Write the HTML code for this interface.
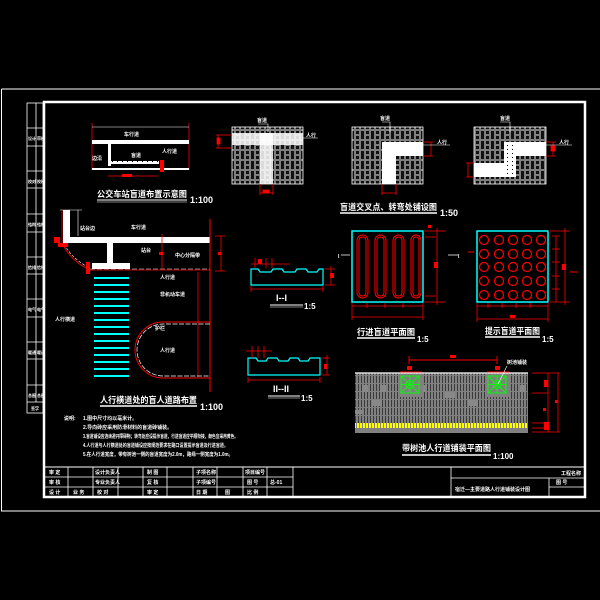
<!DOCTYPE html>
<html><head><meta charset="utf-8"><style>
html,body{margin:0;padding:0;background:#000;width:600px;height:600px;overflow:hidden}
svg{display:block}
text{font-family:"Liberation Sans","Noto Sans CJK SC",sans-serif;font-weight:bold}
</style></head><body>
<svg width="600" height="600" viewBox="0 0 600 600" xmlns="http://www.w3.org/2000/svg">
<defs>
<pattern id="brick" width="10" height="10" patternUnits="userSpaceOnUse">
<rect width="10" height="10" fill="#111"/>
<rect x="0.5" y="0.5" width="4" height="9" fill="none" stroke="#9a9a9a" stroke-width="0.8"/>
<rect x="5.5" y="0.5" width="4" height="4" fill="none" stroke="#9a9a9a" stroke-width="0.8"/>
<rect x="5.5" y="5.5" width="4" height="4" fill="none" stroke="#9a9a9a" stroke-width="0.8"/>
</pattern>
<pattern id="plan" width="3" height="8" patternUnits="userSpaceOnUse">
<rect width="3" height="8" fill="#808080"/>
<rect x="1" y="0" width="0.8" height="7" fill="#2a2a2a"/>
</pattern>
<pattern id="yel" width="3" height="6" patternUnits="userSpaceOnUse">
<rect width="3" height="6" fill="#808080"/>
<rect x="0" y="0" width="2" height="6" fill="#ffff00"/>
</pattern>
<pattern id="dots" width="5" height="4" patternUnits="userSpaceOnUse">
<rect width="5" height="4" fill="#fff"/>
<rect x="2" y="1" width="1" height="1" fill="#000"/>
</pattern>
</defs>
<rect width="600" height="600" fill="#000"/>
<path d="M1.5 89 H600 M1.5 89 V511 H600" stroke="#fff" stroke-width="1" fill="none"/>
<rect x="44" y="102" width="541" height="395" fill="none" stroke="#fff" stroke-width="2.5"/>
<g stroke="#fff" stroke-width="0.8" fill="none">
<rect x="27" y="103" width="16" height="310"/>
<line x1="36" y1="103" x2="36" y2="402"/>
<path d="M27 128H43M27 146H43M27 171H43M27 188H43M27 214H43M27 232H43M27 257H43M27 274H43M27 299H43M27 317H43M27 342H43M27 359H43M27 385H43M27 402H43"/>
</g>
<g fill="#fff" font-size="4">
<text x="28" y="140">设计</text><text x="37" y="140">审核</text>
<text x="28" y="183">校对</text><text x="37" y="183">校核</text>
<text x="28" y="226">结构</text><text x="37" y="226">结构</text>
<text x="28" y="269">给排</text><text x="37" y="269">给排</text>
<text x="28" y="311">电气</text><text x="37" y="311">电气</text>
<text x="28" y="354">暖通</text><text x="37" y="354">暖通</text>
<text x="28" y="397">总图</text><text x="37" y="397">总图</text>
<text x="31" y="410">签字</text>
</g>

<g>
<line x1="92" y1="123" x2="92" y2="170" stroke="#f00" stroke-width="0.8"/>
<line x1="189" y1="123" x2="189" y2="170" stroke="#f00" stroke-width="0.8"/>
<line x1="92" y1="127" x2="189" y2="127" stroke="#fff" stroke-width="0.6"/>
<rect x="92" y="140" width="97" height="4" fill="#fff"/>
<rect x="92" y="168" width="97" height="2" fill="#fff"/>
<rect x="108" y="144" width="3" height="22" fill="#fff"/>
<rect x="111" y="161" width="18" height="3" fill="url(#dots)"/>
<rect x="129" y="161" width="30" height="3" fill="url(#dots)"/>
<line x1="108" y1="176" x2="158" y2="176" stroke="#f00" stroke-width="0.8"/>
<rect x="122" y="174" width="10" height="3" fill="#f00"/>
<rect x="160" y="160" width="4" height="12" fill="#f00"/>
<g fill="#fff" font-size="5"><text x="124" y="136">车行道</text><text x="131" y="157">盲道</text><text x="162" y="153">人行道</text><text x="92" y="160">边沿</text></g>
<text x="97" y="197" fill="#fff" font-size="8.5" textLength="90" lengthAdjust="spacingAndGlyphs">公交车站盲道布置示意图</text>
<line x1="97" y1="200" x2="187" y2="200" stroke="#fff" stroke-width="1"/>
<line x1="97" y1="202" x2="187" y2="202" stroke="#fff" stroke-width="0.6"/>
<text x="190" y="203" fill="#fff" font-size="9" font-weight="normal">1:100</text>
</g>

<g>
<rect x="232" y="127" width="71" height="57" fill="url(#brick)" stroke="#fff" stroke-width="0.8"/>
<rect x="232" y="133" width="71" height="12" fill="#fff" opacity="0.85"/>
<rect x="260" y="133" width="13" height="51" fill="#fff" opacity="0.85"/>
<rect x="352" y="127" width="71" height="57" fill="url(#brick)" stroke="#fff" stroke-width="0.8"/>
<rect x="382" y="142" width="41" height="14" fill="#fff"/>
<rect x="382" y="156" width="14" height="28" fill="#fff"/>
<rect x="474" y="127" width="72" height="57" fill="url(#brick)" stroke="#fff" stroke-width="0.8"/>
<rect x="504" y="142" width="42" height="14" fill="#fff"/>
<rect x="474" y="163" width="42" height="14" fill="#fff"/>
<rect x="504" y="142" width="12" height="35" fill="url(#dots)"/>
<g stroke="#f00" stroke-width="0.8" fill="none">
<path d="M216 135H232M216 148H232M218 135V148"/><rect x="217" y="138" width="3" height="6" fill="#f00"/>
<path d="M260 184V195M273 184V195M260 193H273"/><rect x="263" y="190" width="6" height="3" fill="#f00"/>
<path d="M382 184V195M396 184V195M382 193H396"/>
<path d="M423 142H433M423 156H433M431 142V156"/>
<path d="M546 142H556M546 156H556M553 142V156"/><rect x="551" y="146" width="4" height="5" fill="#f00"/>
<path d="M468 163V177M474 163H466M474 177H466"/>
</g>
<g stroke="#fff" stroke-width="0.6" fill="none"><path d="M268 132V124H258M303 138H318M390 132V122H382M423 145H450M510 132V122H500M546 145H572"/></g>
<g fill="#fff" font-size="5"><text x="257" y="122">盲道</text><text x="306" y="137">人行</text><text x="380" y="120">盲道</text><text x="437" y="144">人行</text><text x="500" y="120">盲道</text><text x="559" y="144">人行</text></g>
<text x="340" y="210" fill="#fff" font-size="8.5" textLength="97" lengthAdjust="spacingAndGlyphs">盲道交叉点、转弯处铺设图</text>
<line x1="340" y1="213" x2="437" y2="213" stroke="#fff" stroke-width="1.5"/>
<text x="440" y="216" fill="#fff" font-size="9" font-weight="normal">1:50</text>
</g>

<g>
<line x1="60" y1="210" x2="82" y2="210" stroke="#fff" stroke-width="0.6"/>
<line x1="78" y1="210" x2="78" y2="236" stroke="#fff" stroke-width="0.6"/>
<rect x="63" y="210" width="7" height="33" fill="#fff"/>
<rect x="63" y="237" width="147" height="6" fill="#fff"/>
<rect x="107" y="243" width="6" height="20" fill="#fff"/>
<rect x="92" y="263" width="38" height="6" fill="#fff"/>
<line x1="90" y1="270" x2="210" y2="270" stroke="#f00" stroke-width="0.8"/>
<line x1="90" y1="269" x2="210" y2="269" stroke="#fff" stroke-width="0.6" stroke-dasharray="5 2"/>
<path d="M63 245 Q72 262 90 270" stroke="#f00" stroke-width="0.9" fill="none"/>
<path d="M64 244 Q73 260 90 268" stroke="#fff" stroke-width="0.6" fill="none" stroke-dasharray="3 1.5"/>
<line x1="62" y1="210" x2="62" y2="245" stroke="#f00" stroke-width="0.8"/>
<rect x="54" y="237" width="6" height="6" fill="#f00"/><rect x="58" y="243" width="10" height="4" fill="#f00"/>
<rect x="86" y="262" width="4" height="12" fill="#f00"/>
<line x1="210" y1="219" x2="210" y2="392" stroke="#f00" stroke-width="1"/>
<line x1="221" y1="236" x2="221" y2="271" stroke="#f00" stroke-width="0.8"/>
<path d="M215 236H225M215 271H225" stroke="#f00" stroke-width="0.8"/>
<rect x="218" y="252" width="3" height="3" fill="#f00"/>
<line x1="162" y1="234" x2="162" y2="270" stroke="#f00" stroke-width="0.8"/>
<rect x="159" y="252" width="4" height="3" fill="#f00"/>
<line x1="198" y1="272" x2="198" y2="377" stroke="#f00" stroke-width="0.8"/>
<g fill="#fff" font-size="5"><text x="80" y="230">站台边</text><text x="131" y="229">车行道</text><text x="141" y="252">站台</text><text x="175" y="257">中心分隔带</text><text x="160" y="296">非机动车道</text><text x="160" y="352">人行道</text><text x="160" y="279">人行道</text><text x="55" y="321">人行横道</text><text x="155" y="330">护栏</text></g>
<g fill="#0ff">
<rect x="94" y="277" width="35" height="2"/><rect x="94" y="284" width="35" height="2"/><rect x="94" y="291" width="35" height="2"/><rect x="94" y="298" width="35" height="2"/><rect x="94" y="305" width="35" height="2"/><rect x="94" y="312" width="35" height="2"/><rect x="94" y="319" width="35" height="2"/><rect x="94" y="326" width="35" height="2"/><rect x="94" y="333" width="35" height="2"/><rect x="94" y="340" width="35" height="2"/><rect x="94" y="347" width="35" height="2"/><rect x="94" y="354" width="35" height="2"/><rect x="94" y="361" width="35" height="2"/><rect x="94" y="368" width="35" height="2"/><rect x="94" y="375" width="35" height="2"/>
</g>
<path d="M210 322 H163 A28 28 0 0 0 163 378 H210" stroke="#f00" stroke-width="1" fill="none"/>
<path d="M210 324 H163 A26 26 0 0 0 163 376 H210" stroke="#fff" stroke-width="0.7" fill="none" stroke-dasharray="5 1.5"/>
<text x="100" y="403" fill="#fff" font-size="8.5" textLength="97" lengthAdjust="spacingAndGlyphs">人行横道处的盲人道路布置</text>
<line x1="100" y1="406" x2="197" y2="406" stroke="#fff" stroke-width="1.5"/>
<text x="200" y="410" fill="#fff" font-size="9" font-weight="normal">1:100</text>
</g>

<g fill="#fff" font-size="5">
<text x="64" y="420">说明:</text>
<text x="83" y="420">1.图中尺寸均以毫米计。</text>
<text x="83" y="429">2.导向砖应采用防滑材料的盲道砖铺装。</text>
<text x="83" y="438" textLength="155" lengthAdjust="spacingAndGlyphs">3.盲道铺设应连续避开障碍物；转弯处应设提示盲道，行进盲道应平顺衔接，颜色宜采用黄色。</text>
<text x="83" y="447" textLength="145" lengthAdjust="spacingAndGlyphs">4.人行道与人行横道处的盲道铺设应按规范要求在路口设置提示盲道及行进盲道。</text>
<text x="83" y="456" textLength="150" lengthAdjust="spacingAndGlyphs">5.在人行道宽度，带有树池一侧的盲道宽度为2.0m，路缘一侧宽度为1.0m。</text>
</g>

<g>
<path d="M251 285 V269 H258 L260 272 H271 L273 269 H282 L284 272 H295 L297 269 H306 L308 272 H317 L319 269 H323 V285 Z" fill="none" stroke="#0ff" stroke-width="1.2"/>
<path d="M251 289H323M251 286V292M323 286V292M251 264H290M255 258V268M266 258V268M272 258V268" stroke="#f00" stroke-width="0.8" fill="none"/>
<rect x="258" y="259" width="4" height="5" fill="#f00"/><rect x="330" y="273" width="4" height="5" fill="#f00"/>
<path d="M325 269H335M325 285H335M331 266V285" stroke="#f00" stroke-width="0.8"/>
<text x="276" y="301" fill="#fff" font-size="9" font-weight="normal">I--I</text>
<line x1="270" y1="305" x2="303" y2="305" stroke="#fff" stroke-width="1"/><line x1="270" y1="307" x2="303" y2="307" stroke="#fff" stroke-width="0.6"/>
<text x="304" y="309" fill="#fff" font-size="8" font-weight="normal">1:5</text>

<path d="M248 375 V358 H256 L258 361 H266 L268 358 H277 L279 361 H288 L290 358 H298 L300 361 H308 L310 358 H320 V375 Z" fill="none" stroke="#0ff" stroke-width="1.2"/>
<path d="M248 380H320M248 377V383M320 377V383M246 351H272M252 346V358M258 346V358M264 346V358" stroke="#f00" stroke-width="0.8" fill="none"/>
<path d="M322 358H330M322 375H330M327 355V375" stroke="#f00" stroke-width="0.8"/><rect x="324" y="364" width="3" height="5" fill="#f00"/>
<text x="273" y="392" fill="#fff" font-size="9" font-weight="normal">II--II</text>
<line x1="268" y1="396" x2="300" y2="396" stroke="#fff" stroke-width="1"/><line x1="268" y1="398" x2="300" y2="398" stroke="#fff" stroke-width="0.6"/>
<text x="301" y="401" fill="#fff" font-size="8" font-weight="normal">1:5</text>
</g>

<g>
<rect x="352" y="231" width="71" height="71" fill="none" stroke="#0ff" stroke-width="1.5"/>
<g fill="none" stroke="#f00" stroke-width="1">
<rect x="357" y="235" width="11" height="63" rx="5.5"/><rect x="375" y="235" width="11" height="63" rx="5.5"/><rect x="393" y="235" width="11" height="63" rx="5.5"/><rect x="411" y="235" width="10" height="63" rx="5"/>
<rect x="359" y="237" width="7" height="59" rx="3.5"/><rect x="377" y="237" width="7" height="59" rx="3.5"/><rect x="395" y="237" width="7" height="59" rx="3.5"/><rect x="413" y="237" width="6" height="59" rx="3"/>
</g>
<path d="M352 306H423M352 317H423M352 303V320M423 303V320M367 303V308M385 303V308M403 303V308M423 231H446M423 302H446M437 228V305M425 237H436M425 296H436" stroke="#f00" stroke-width="0.8" fill="none"/>
<rect x="434" y="262" width="4" height="6" fill="#f00"/><rect x="428" y="225" width="3" height="3" fill="#f00"/>
<path d="M341 255H350M448 255H458" stroke="#fff" stroke-width="0.8"/>
<text x="338" y="258" fill="#fff" font-size="5">I</text><text x="458" y="258" fill="#fff" font-size="5">I</text>
<text x="357" y="335" fill="#fff" font-size="8.5" textLength="58" lengthAdjust="spacingAndGlyphs">行进盲道平面图</text>
<line x1="357" y1="338" x2="415" y2="338" stroke="#fff" stroke-width="1.5"/>
<text x="417" y="342" fill="#fff" font-size="8" font-weight="normal">1:5</text>

<rect x="477" y="231" width="71" height="71" fill="none" stroke="#0ff" stroke-width="1.5"/>
<g fill="none" stroke="#f00" stroke-width="1.2">
<circle cx="484" cy="240" r="4.5"/><circle cx="499" cy="240" r="4.5"/><circle cx="513" cy="240" r="4.5"/><circle cx="527" cy="240" r="4.5"/><circle cx="541" cy="240" r="4.5"/>
<circle cx="484" cy="254" r="4.5"/><circle cx="499" cy="254" r="4.5"/><circle cx="513" cy="254" r="4.5"/><circle cx="527" cy="254" r="4.5"/><circle cx="541" cy="254" r="4.5"/>
<circle cx="484" cy="267" r="4.5"/><circle cx="499" cy="267" r="4.5"/><circle cx="513" cy="267" r="4.5"/><circle cx="527" cy="267" r="4.5"/><circle cx="541" cy="267" r="4.5"/>
<circle cx="484" cy="281" r="4.5"/><circle cx="499" cy="281" r="4.5"/><circle cx="513" cy="281" r="4.5"/><circle cx="527" cy="281" r="4.5"/><circle cx="541" cy="281" r="4.5"/>
<circle cx="484" cy="295" r="4.5"/><circle cx="499" cy="295" r="4.5"/><circle cx="513" cy="295" r="4.5"/><circle cx="527" cy="295" r="4.5"/><circle cx="541" cy="295" r="4.5"/>
</g>
<path d="M477 306H548M477 319H548M477 303V322M548 303V322M488 303V308M502 303V308M516 303V308M530 303V308M548 231H570M548 302H570M565 228V305M552 236H560M552 302H560M556 236V302M552 249H560M552 262H560M552 276H560M552 289H560" stroke="#f00" stroke-width="0.8" fill="none"/>
<rect x="562" y="264" width="4" height="6" fill="#f00"/><rect x="510" y="315" width="5" height="3" fill="#f00"/>
<path d="M468 252H474M570 272H578" stroke="#f00" stroke-width="1"/>
<text x="485" y="334" fill="#fff" font-size="8.5" textLength="55" lengthAdjust="spacingAndGlyphs">提示盲道平面图</text>
<line x1="485" y1="337" x2="540" y2="337" stroke="#fff" stroke-width="1.5"/>
<text x="542" y="342" fill="#fff" font-size="8" font-weight="normal">1:5</text>
</g>

<g>
<rect x="355" y="373" width="173" height="60" fill="url(#plan)"/>
<rect x="355" y="423" width="173" height="5" fill="url(#yel)"/>
<rect x="355" y="428" width="173" height="5" fill="#808080"/>
<line x1="355" y1="373" x2="528" y2="373" stroke="#fff" stroke-width="1.2"/>
<g fill="#888"><rect x="362" y="385" width="6" height="7"/><rect x="380" y="385" width="6" height="7"/><rect x="372" y="400" width="10" height="6"/><rect x="355" y="410" width="8" height="4"/><rect x="445" y="392" width="10" height="6"/><rect x="420" y="385" width="6" height="7"/><rect x="468" y="400" width="10" height="6"/><rect x="520" y="385" width="6" height="7"/></g>
<rect x="399" y="374" width="24" height="23" fill="#808080"/>
<rect x="486" y="374" width="24" height="23" fill="#808080"/>
<g stroke="#0f0" stroke-width="0.9" fill="none">
<rect x="401" y="376" width="18" height="17"/><circle cx="410" cy="384.5" r="4"/>
<path d="M401 376L419 393M419 376L401 393M410 376V393M401 384.5H419"/>
<rect x="488" y="376" width="18" height="17"/><circle cx="497" cy="384.5" r="4"/>
<path d="M488 376L506 393M506 376L488 393M497 376V393M488 384.5H506"/>
</g>
<path d="M409 360H497M409 356V364M497 356V364M400 372H422M487 372H509" stroke="#f00" stroke-width="0.9" fill="none"/>
<rect x="450" y="355" width="6" height="3" fill="#f00"/><rect x="407" y="366" width="5" height="4" fill="#f00"/><rect x="495" y="366" width="5" height="4" fill="#f00"/>
<path d="M498 384L507 366" stroke="#fff" stroke-width="0.6"/>
<text x="507" y="364" fill="#fff" font-size="5">树池铺装</text>
<path d="M532 373H560M532 393H548M532 423H548M532 428H548M532 432H560M548 373V432M558 373V432" stroke="#f00" stroke-width="0.8" fill="none"/>
<rect x="544" y="380" width="4" height="7" fill="#f00"/><rect x="555" y="400" width="3" height="3" fill="#f00"/><rect x="544" y="422" width="5" height="8" fill="#f00"/><rect x="543" y="408" width="3" height="3" fill="#f00"/>
<text x="402" y="451" fill="#fff" font-size="8.5" textLength="89" lengthAdjust="spacingAndGlyphs">带树池人行道铺装平面图</text>
<line x1="402" y1="455" x2="491" y2="455" stroke="#fff" stroke-width="1.5"/>
<text x="493" y="459" fill="#fff" font-size="8" font-weight="normal">1:100</text>
</g>

<g stroke="#fff" stroke-width="0.8" fill="none">
<line x1="44" y1="467" x2="585" y2="467" stroke-width="1"/>
<line x1="44" y1="477" x2="293" y2="477"/><line x1="44" y1="487" x2="293" y2="487"/>
<path d="M68 467V497M93 467V497M118 467V497M143 467V497M167 467V497M193 467V497M217 467V497M243 467V497M267 467V497M293 467V497M451 467V497"/>
<line x1="451" y1="478" x2="585" y2="478"/><line x1="549" y1="478" x2="549" y2="497"/><line x1="549" y1="487" x2="585" y2="487"/>
</g>
<g fill="#fff" font-size="5">
<text x="49" y="474">审 定</text><text x="49" y="484">审 核</text><text x="49" y="494">设 计</text><text x="73" y="494">业 务</text>
<text x="95" y="474">设计负责人</text><text x="95" y="484">专业负责人</text><text x="97" y="494">校 对</text>
<text x="147" y="474">制 图</text><text x="147" y="484">复 核</text><text x="147" y="494">审 定</text>
<text x="196" y="474">子项名称</text><text x="196" y="484">子项编号</text><text x="196" y="494">日 期</text><text x="225" y="494">图</text>
<text x="245" y="474">项目编号</text><text x="247" y="484">图 号</text><text x="247" y="494">比 例</text><text x="270" y="484">总-01</text>
<text x="455" y="491">宿迁—主要道路人行道铺装设计图</text>
<text x="561" y="475">工程名称</text><text x="556" y="484">图 号</text>
</g>
</svg>
</body></html>
